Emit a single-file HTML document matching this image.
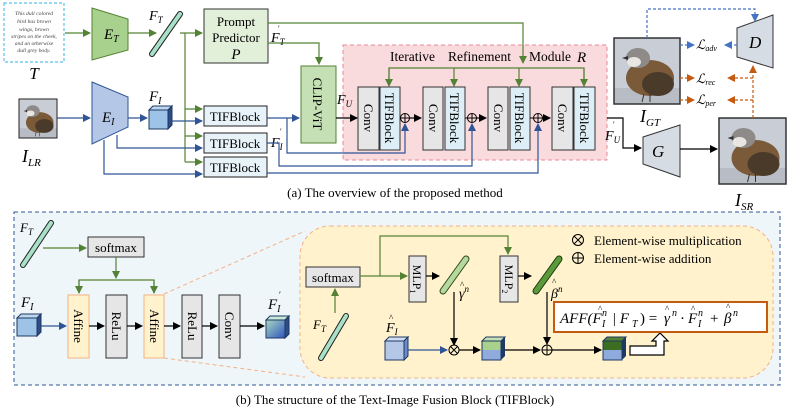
<!DOCTYPE html>
<html><head><meta charset="utf-8"><style>
html,body{margin:0;padding:0;background:#fff;}
svg{display:block;font-family:"Liberation Serif",serif;}
</style></head><body>
<svg width="789" height="411" viewBox="0 0 789 411" xmlns="http://www.w3.org/2000/svg">
<defs>
<marker id="ag" markerWidth="8" markerHeight="8" refX="7" refY="4" orient="auto" markerUnits="userSpaceOnUse"><path d="M0,0 L8,4 L0,8 z" fill="#548235"/></marker>
<marker id="ab" markerWidth="8" markerHeight="8" refX="7" refY="4" orient="auto" markerUnits="userSpaceOnUse"><path d="M0,0 L8,4 L0,8 z" fill="#2f5597"/></marker>
<marker id="ak" markerWidth="8" markerHeight="8" refX="7" refY="4" orient="auto" markerUnits="userSpaceOnUse"><path d="M0,0 L8,4 L0,8 z" fill="#000"/></marker>
<marker id="ao" markerWidth="8" markerHeight="8" refX="7" refY="4" orient="auto" markerUnits="userSpaceOnUse"><path d="M0,0 L8,4 L0,8 z" fill="#c55a11"/></marker>
<marker id="al" markerWidth="8" markerHeight="8" refX="7" refY="4" orient="auto" markerUnits="userSpaceOnUse"><path d="M0,0 L8,4 L0,8 z" fill="#4472c4"/></marker>
<symbol id="bird" viewBox="0 0 66 66">
<rect width="66" height="66" fill="#c9cdd6"/>
<rect y="50" width="66" height="16" fill="#b8bcc4"/>
<ellipse cx="36" cy="40" rx="24" ry="18" fill="#7a5a38"/>
<ellipse cx="44" cy="46" rx="16" ry="12" fill="#4a3a2a"/>
<ellipse cx="24" cy="20" rx="12" ry="10" fill="#8e8a88"/>
<ellipse cx="20" cy="24" rx="7" ry="5" fill="#e8e6e2"/>
<path d="M8,20 L14,18 L14,22z" fill="#333"/>
<line x1="30" y1="56" x2="28" y2="64" stroke="#333"/><line x1="36" y1="56" x2="36" y2="64" stroke="#333"/>
</symbol>
<linearGradient id="gout" x1="0" y1="0" x2="1" y2="1"><stop offset="0" stop-color="#a9d8c0"/><stop offset="1" stop-color="#2f55c0"/></linearGradient>
</defs>

<rect x="4" y="3" width="60" height="59" fill="#fff" stroke="#5bc0eb" stroke-width="1.2" stroke-dasharray="3,2"/>
<g font-size="5.6" font-style="italic" fill="#444" text-anchor="middle">
<text x="34" y="15">This dull colored</text><text x="34" y="23">bird has brown</text><text x="34" y="31">wings, brown</text><text x="34" y="38">stripes on the cheek,</text><text x="34" y="45">and an otherwise</text><text x="34" y="52">dull grey body.</text></g>
<text x="34" y="79" font-size="17" font-style="italic" text-anchor="middle">T</text>
<line x1="65" y1="33" x2="90" y2="33" stroke="#548235" stroke-width="1.2" marker-end="url(#ag)"/>
<polygon points="92,8 128,19 128,50 92,60" fill="#a9d18e" stroke="#548235"/>
<text x="104" y="39" font-size="15" font-style="italic">E<tspan font-size="10" dy="3">T</tspan></text>
<line x1="128" y1="33" x2="156" y2="33" stroke="#548235" stroke-width="1.2" marker-end="url(#ag)"/>
<line x1="152" y1="54" x2="180" y2="14" stroke="#222" stroke-width="6" stroke-linecap="round"/>
<line x1="152" y1="54" x2="180" y2="14" stroke="#a8e0c8" stroke-width="4" stroke-linecap="round"/>
<text x="149" y="20" font-size="14" font-style="italic">F<tspan font-size="9" dy="3">T</tspan></text>
<line x1="180" y1="33" x2="202" y2="33" stroke="#548235" stroke-width="1.2" marker-end="url(#ag)"/>
<rect x="204" y="9" width="64" height="54" fill="#e2efd9" stroke="#333"/>
<text x="236" y="26" font-size="13" text-anchor="middle">Prompt</text>
<text x="236" y="42" font-size="13" text-anchor="middle">Predictor</text>
<text x="236" y="59" font-size="15" font-style="italic" text-anchor="middle">P</text>
<polyline points="185,33 185,162" fill="none" stroke="#548235" stroke-width="1.2"/>
<line x1="185" y1="109" x2="202" y2="109" stroke="#548235" stroke-width="1.2" marker-end="url(#ag)"/>
<line x1="185" y1="136" x2="202" y2="136" stroke="#548235" stroke-width="1.2" marker-end="url(#ag)"/>
<line x1="185" y1="162" x2="202" y2="162" stroke="#548235" stroke-width="1.2" marker-end="url(#ag)"/>
<rect x="343" y="45" width="264" height="115" fill="#f9dadd" stroke="#e88a94" stroke-dasharray="4,3"/>
<g font-size="13.5">
<text x="390" y="61">Iterative</text><text x="448" y="61">Refinement</text><text x="529" y="61">Module</text></g>
<text x="577" y="62" font-size="15" font-style="italic">R</text>
<polyline points="268,23 523,23 523,63" fill="none" stroke="#548235" stroke-width="1.2" marker-end="url(#ag)"/>
<polyline points="389,86 389,68 584,68 584,86" fill="none" stroke="#548235" stroke-width="1.2"/>
<line x1="389" y1="68" x2="389" y2="86" stroke="#548235" stroke-width="1.2" marker-end="url(#ag)"/>
<line x1="454" y1="68" x2="454" y2="86" stroke="#548235" stroke-width="1.2" marker-end="url(#ag)"/>
<line x1="519" y1="68" x2="519" y2="86" stroke="#548235" stroke-width="1.2" marker-end="url(#ag)"/>
<line x1="584" y1="68" x2="584" y2="86" stroke="#548235" stroke-width="1.2" marker-end="url(#ag)"/>
<polyline points="268,43 319,43 319,64" fill="none" stroke="#548235" stroke-width="1.2" marker-end="url(#ag)"/>
<text x="271" y="42" font-size="14" font-style="italic">F<tspan font-size="9" dy="3">T</tspan></text><text x="278" y="31" font-size="8">′</text>
<rect x="301" y="66" width="35" height="77" fill="#c5e0b4" stroke="#548235"/>
<text transform="translate(313,104) rotate(90)" font-size="13" text-anchor="middle">CLIP-ViT</text>
<text x="337" y="104" font-size="14" font-style="italic">F<tspan font-size="9" dy="3">U</tspan></text>
<line x1="336" y1="118" x2="357" y2="118" stroke="#000" stroke-width="1.2" marker-end="url(#ak)"/>
<g font-size="13">
<rect x="358" y="87" width="21" height="63" fill="#e6e6e6" stroke="#333"/><rect x="380" y="87" width="20" height="63" fill="#deeef7" stroke="#333"/>
<rect x="423" y="87" width="20" height="63" fill="#e6e6e6" stroke="#333"/><rect x="445" y="87" width="20" height="63" fill="#deeef7" stroke="#333"/>
<rect x="488" y="87" width="20" height="63" fill="#e6e6e6" stroke="#333"/><rect x="510" y="87" width="20" height="63" fill="#deeef7" stroke="#333"/>
<rect x="552" y="87" width="21" height="63" fill="#e6e6e6" stroke="#333"/><rect x="574" y="87" width="21" height="63" fill="#deeef7" stroke="#333"/>
<text transform="translate(364,118) rotate(90)" text-anchor="middle">Conv</text><text transform="translate(385,118) rotate(90)" text-anchor="middle">TIFBlock</text>
<text transform="translate(429,118) rotate(90)" text-anchor="middle">Conv</text><text transform="translate(450,118) rotate(90)" text-anchor="middle">TIFBlock</text>
<text transform="translate(494,118) rotate(90)" text-anchor="middle">Conv</text><text transform="translate(515,118) rotate(90)" text-anchor="middle">TIFBlock</text>
<text transform="translate(558,118) rotate(90)" text-anchor="middle">Conv</text><text transform="translate(580,118) rotate(90)" text-anchor="middle">TIFBlock</text>
</g>
<g stroke="#000" stroke-width="1" fill="none">
<circle cx="405" cy="118" r="4.5"/><path d="M400.5,118h9M405,113.5v9"/>
<circle cx="472" cy="118" r="4.5"/><path d="M467.5,118h9M472,113.5v9"/>
<circle cx="538" cy="118" r="4.5"/><path d="M533.5,118h9M538,113.5v9"/>
</g>
<line x1="409.5" y1="118" x2="421" y2="118" stroke="#000" stroke-width="1.2" marker-end="url(#ak)"/>
<line x1="465" y1="118" x2="467.5" y2="118" stroke="#000"/>
<line x1="476.5" y1="118" x2="486" y2="118" stroke="#000" stroke-width="1.2" marker-end="url(#ak)"/>
<line x1="530" y1="118" x2="533.5" y2="118" stroke="#000"/>
<line x1="542.5" y1="118" x2="550" y2="118" stroke="#000" stroke-width="1.2" marker-end="url(#ak)"/>
<use href="#bird" x="19" y="99" width="38" height="39"/>
<rect x="19" y="99" width="38" height="39" fill="none" stroke="#222"/>
<text x="22" y="162" font-size="18" font-style="italic">I<tspan font-size="11" dy="4">LR</tspan></text>
<line x1="57" y1="118" x2="90" y2="118" stroke="#2f5597" stroke-width="1.2" marker-end="url(#ab)"/>
<polygon points="92,82 128,97 128,127 92,144" fill="#b4c7e7" stroke="#2f5597"/>
<text x="102" y="122" font-size="15" font-style="italic">E<tspan font-size="10" dy="3">I</tspan></text>
<line x1="128" y1="118" x2="147" y2="118" stroke="#2f5597" stroke-width="1.2" marker-end="url(#ab)"/>
<polygon points="149,110 153,106 172,106 172,125 168,129 149,129" fill="#1f3864"/>
<rect x="149" y="110" width="19" height="19" fill="#9dc3e6" stroke="#1f3864"/>
<polygon points="149,110 153,106 172,106 168,110" fill="#bdd7ee" stroke="#1f3864"/>
<polygon points="168,110 172,106 172,125 168,129" fill="#2e4d86" stroke="#1f3864"/>
<text x="149" y="101" font-size="15" font-style="italic">F<tspan font-size="10" dy="3">I</tspan></text>
<line x1="172" y1="121" x2="202" y2="121" stroke="#2f5597" stroke-width="1.2" marker-end="url(#ab)"/>
<polyline points="117,135 117,148 202,148" fill="none" stroke="#2f5597" stroke-width="1.2" marker-end="url(#ab)"/>
<polyline points="104,140 104,174 202,174" fill="none" stroke="#2f5597" stroke-width="1.2" marker-end="url(#ab)"/>
<g font-size="13">
<rect x="204" y="106" width="63" height="20" fill="#e7f3f9" stroke="#222"/><text x="235" y="121" text-anchor="middle">TIFBlock</text>
<rect x="204" y="133" width="63" height="20" fill="#e7f3f9" stroke="#222"/><text x="235" y="148" text-anchor="middle">TIFBlock</text>
<rect x="204" y="157" width="63" height="20" fill="#e7f3f9" stroke="#222"/><text x="235" y="172" text-anchor="middle">TIFBlock</text>
</g>
<text x="271" y="147" font-size="14" font-style="italic">F<tspan font-size="9" dy="3">I</tspan></text><text x="280" y="134" font-size="8">′</text>
<line x1="267" y1="118" x2="299" y2="118" stroke="#2f5597" stroke-width="1.2" marker-end="url(#ab)"/>
<polyline points="287,118 287,153 405,153 405,124" fill="none" stroke="#2f5597" stroke-width="1.2" marker-end="url(#ab)"/>
<polyline points="267,143 279,143 279,166 472,166 472,124" fill="none" stroke="#2f5597" stroke-width="1.2" marker-end="url(#ab)"/>
<polyline points="267,173 538,173 538,124" fill="none" stroke="#2f5597" stroke-width="1.2" marker-end="url(#ab)"/>
<polyline points="607,118 623,118 623,148 641,148" fill="none" stroke="#000" stroke-width="1.2" marker-end="url(#ak)"/>
<text x="605" y="140" font-size="14" font-style="italic">F<tspan font-size="9" dy="3">U</tspan></text><text x="613" y="127" font-size="8">′</text>
<polygon points="643,137 680,125 680,177 643,164" fill="#d6dce4" stroke="#333"/>
<text x="652" y="157" font-size="17" font-style="italic">G</text>
<line x1="680" y1="149" x2="717" y2="149" stroke="#000" stroke-width="1.2" marker-end="url(#ak)"/>
<use href="#bird" x="719" y="118" width="67" height="66"/>
<rect x="719" y="118" width="67" height="66" fill="none" stroke="#333" stroke-width="1.5"/>
<text x="735" y="206" font-size="18" font-style="italic">I<tspan font-size="11" dy="4">SR</tspan></text>
<use href="#bird" x="614" y="38" width="66" height="66"/>
<rect x="614" y="38" width="66" height="66" fill="none" stroke="#333" stroke-width="1.5"/>
<text x="640" y="122" font-size="18" font-style="italic">I<tspan font-size="11" dy="4">GT</tspan></text>
<polygon points="737,28 773,15 773,68 737,57" fill="#d6dce4" stroke="#333"/>
<text x="749" y="48" font-size="17" font-style="italic">D</text>
<polyline points="647,38 647,9 755,9 755,21" fill="none" stroke="#4472c4" stroke-width="1.2" stroke-dasharray="3,2" marker-end="url(#al)"/>
<line x1="680" y1="45" x2="694" y2="45" stroke="#4472c4" stroke-width="1.2" stroke-dasharray="3,2" marker-end="url(#al)"/>
<line x1="737" y1="45" x2="725" y2="45" stroke="#4472c4" stroke-width="1.2" stroke-dasharray="3,2" marker-end="url(#al)"/>
<g font-size="13" font-style="italic">
<text x="696" y="49">ℒ<tspan font-size="8" dy="2">adv</tspan></text>
<text x="696" y="83">ℒ<tspan font-size="8" dy="2">rec</tspan></text>
<text x="696" y="104">ℒ<tspan font-size="8" dy="2">per</tspan></text>
</g>
<line x1="680" y1="78" x2="694" y2="78" stroke="#c55a11" stroke-width="1.2" stroke-dasharray="3,2" marker-end="url(#ao)"/>
<line x1="680" y1="100" x2="694" y2="100" stroke="#c55a11" stroke-width="1.2" stroke-dasharray="3,2" marker-end="url(#ao)"/>
<line x1="753" y1="118" x2="753" y2="66" stroke="#c55a11" stroke-width="1.2" stroke-dasharray="3,2" marker-end="url(#ao)"/>
<line x1="753" y1="78" x2="728" y2="78" stroke="#c55a11" stroke-width="1.2" stroke-dasharray="3,2" marker-end="url(#ao)"/>
<line x1="753" y1="100" x2="728" y2="100" stroke="#c55a11" stroke-width="1.2" stroke-dasharray="3,2" marker-end="url(#ao)"/>
<text x="395" y="197" font-size="13" text-anchor="middle">(a) The overview of the proposed method</text>

<rect x="14" y="212" width="766" height="173" fill="#eef6fa" stroke="#2f5597" stroke-dasharray="4,3"/>
<line x1="23" y1="265" x2="51" y2="223" stroke="#222" stroke-width="6" stroke-linecap="round"/>
<line x1="23" y1="265" x2="51" y2="223" stroke="#a8e0c8" stroke-width="4" stroke-linecap="round"/>
<text x="20" y="232" font-size="13" font-style="italic">F<tspan font-size="9" dy="3">T</tspan></text>
<line x1="43" y1="248" x2="86" y2="248" stroke="#548235" stroke-width="1.2" marker-end="url(#ag)"/>
<rect x="88" y="237" width="56" height="20" fill="#e6e6e6" stroke="#333"/>
<text x="116" y="252" font-size="13" text-anchor="middle">softmax</text>
<line x1="116" y1="257" x2="116" y2="278" stroke="#548235" stroke-width="1.2" marker-end="url(#ag)"/>
<polyline points="79,293 79,280 154,280 154,293" fill="none" stroke="#548235" stroke-width="1.2"/>
<line x1="79" y1="280" x2="79" y2="293" stroke="#548235" stroke-width="1.2" marker-end="url(#ag)"/>
<line x1="154" y1="280" x2="154" y2="293" stroke="#548235" stroke-width="1.2" marker-end="url(#ag)"/>
<g font-size="13">
<rect x="68" y="295" width="21" height="63" fill="#fff2cc" stroke="#f4b183"/>
<rect x="106" y="295" width="21" height="63" fill="#e6e6e6" stroke="#333"/>
<rect x="144" y="295" width="20" height="63" fill="#fff2cc" stroke="#f4b183"/>
<rect x="182" y="295" width="20" height="63" fill="#e6e6e6" stroke="#333"/>
<rect x="219" y="295" width="21" height="63" fill="#e6e6e6" stroke="#333"/>
<text transform="translate(74,326) rotate(90)" text-anchor="middle">Affine</text>
<text transform="translate(112,326) rotate(90)" text-anchor="middle">ReLu</text>
<text transform="translate(150,326) rotate(90)" text-anchor="middle">Affine</text>
<text transform="translate(188,326) rotate(90)" text-anchor="middle">ReLu</text>
<text transform="translate(225,326) rotate(90)" text-anchor="middle">Conv</text>
</g>
<polygon points="17,318 21,314 41,314 41,332 37,336 17,336" fill="#1f3864"/>
<rect x="17" y="318" width="20" height="18" fill="#9dc3e6" stroke="#1f3864"/>
<polygon points="17,318 21,314 41,314 37,318" fill="#bdd7ee" stroke="#1f3864"/>
<polygon points="37,318 41,314 41,332 37,336" fill="#2e4d86" stroke="#1f3864"/>
<text x="21" y="307" font-size="15" font-style="italic">F<tspan font-size="10" dy="3">I</tspan></text>
<line x1="41" y1="326" x2="66" y2="326" stroke="#2f5597" stroke-width="1.2" marker-end="url(#ab)"/>
<line x1="89" y1="326" x2="104" y2="326" stroke="#000" stroke-width="1.2" marker-end="url(#ak)"/>
<line x1="127" y1="326" x2="142" y2="326" stroke="#000" stroke-width="1.2" marker-end="url(#ak)"/>
<line x1="164" y1="326" x2="180" y2="326" stroke="#000" stroke-width="1.2" marker-end="url(#ak)"/>
<line x1="202" y1="326" x2="217" y2="326" stroke="#000" stroke-width="1.2" marker-end="url(#ak)"/>
<line x1="240" y1="326" x2="264" y2="326" stroke="#000" stroke-width="1.2" marker-end="url(#ak)"/>
<polygon points="266,320 270,316 289,316 289,334 285,338 266,338" fill="#1f3864"/>
<rect x="266" y="320" width="19" height="18" fill="url(#gout)" stroke="#1f3864"/>
<polygon points="266,320 270,316 289,316 285,320" fill="#c7e8d8" stroke="#1f3864"/>
<polygon points="285,320 289,316 289,334 285,338" fill="#2e4d86" stroke="#1f3864"/>
<text x="268" y="309" font-size="15" font-style="italic">F<tspan font-size="10" dy="3">I</tspan></text><text x="279" y="298" font-size="9">′</text>
<line x1="164" y1="294" x2="305" y2="231" stroke="#f4b183" stroke-dasharray="4,3"/>
<line x1="164" y1="358" x2="305" y2="377" stroke="#f4b183" stroke-dasharray="4,3"/>
<rect x="300" y="226" width="473" height="152" rx="30" fill="#fff2cc" stroke="#f4b183" stroke-dasharray="4,3"/>
<rect x="306" y="267" width="54" height="20" fill="#e6e6e6" stroke="#333"/>
<text x="333" y="282" font-size="13" text-anchor="middle">softmax</text>
<line x1="321" y1="358" x2="346" y2="316" stroke="#222" stroke-width="6" stroke-linecap="round"/>
<line x1="321" y1="358" x2="346" y2="316" stroke="#a8e0c8" stroke-width="4" stroke-linecap="round"/>
<text x="313" y="329" font-size="13" font-style="italic">F<tspan font-size="9" dy="3">T</tspan></text>
<line x1="335" y1="313" x2="335" y2="289" stroke="#548235" stroke-width="1.2" marker-end="url(#ag)"/>
<line x1="360" y1="276" x2="407" y2="276" stroke="#548235" stroke-width="1.2" marker-end="url(#ag)"/>
<polyline points="380,276 380,236 508,236 508,254" fill="none" stroke="#548235" stroke-width="1.2" marker-end="url(#ag)"/>
<rect x="409" y="256" width="17" height="46" fill="#e6e6e6" stroke="#333"/>
<rect x="500" y="256" width="18" height="46" fill="#e6e6e6" stroke="#333"/>
<text transform="translate(413,279) rotate(90)" font-size="12" text-anchor="middle">MLP<tspan font-size="8" dy="3">1</tspan></text>
<text transform="translate(505,279) rotate(90)" font-size="12" text-anchor="middle">MLP<tspan font-size="8" dy="3">2</tspan></text>
<line x1="426" y1="276" x2="439" y2="276" stroke="#000" stroke-width="1.2" marker-end="url(#ak)"/>
<line x1="518" y1="276" x2="531" y2="276" stroke="#000" stroke-width="1.2" marker-end="url(#ak)"/>
<line x1="443" y1="291" x2="466" y2="259" stroke="#2f4a20" stroke-width="7" stroke-linecap="round"/>
<line x1="443" y1="291" x2="466" y2="259" stroke="#b5d99c" stroke-width="5" stroke-linecap="round"/>
<line x1="536" y1="291" x2="559" y2="259" stroke="#1e3a12" stroke-width="7" stroke-linecap="round"/>
<line x1="536" y1="291" x2="559" y2="259" stroke="#5a9a3a" stroke-width="5" stroke-linecap="round"/>
<text x="459" y="298" font-size="14" font-style="italic">γ<tspan font-size="9" dy="-6">n</tspan></text>
<text x="460" y="288" font-size="9">^</text>
<text x="551" y="298" font-size="14" font-style="italic">β<tspan font-size="9" dy="-6">n</tspan></text>
<text x="552" y="285" font-size="9">^</text>
<line x1="454" y1="292" x2="454" y2="345" stroke="#000" stroke-width="1.2" marker-end="url(#ak)"/>
<line x1="547" y1="292" x2="547" y2="344" stroke="#000" stroke-width="1.2" marker-end="url(#ak)"/>
<polygon points="385,341 389,337 408,337 408,356 404,360 385,360" fill="#1f3864"/>
<rect x="385" y="341" width="19" height="19" fill="#b4c7e7" stroke="#1f3864"/>
<polygon points="385,341 389,337 408,337 404,341" fill="#d0def2" stroke="#1f3864"/>
<polygon points="404,341 408,337 408,356 404,360" fill="#6a8cc8" stroke="#1f3864"/>
<text x="386" y="332" font-size="14" font-style="italic">F<tspan font-size="9" dy="3">I</tspan></text>
<text x="389" y="321" font-size="9">^</text>
<line x1="408" y1="350" x2="447" y2="350" stroke="#2f5597" stroke-width="1.2" marker-end="url(#ab)"/>
<g stroke="#000" stroke-width="1" fill="none">
<circle cx="454" cy="350" r="5"/><path d="M450.5,346.5l7,7M457.5,346.5l-7,7"/>
<circle cx="547" cy="350" r="5"/><path d="M542,350h10M547,345v10"/>
</g>
<line x1="459" y1="350" x2="480" y2="350" stroke="#000" stroke-width="1.2" marker-end="url(#ak)"/>
<polygon points="482,341 486,337 505,337 505,356 501,360 482,360" fill="#1f3864"/>
<rect x="482" y="341" width="19" height="9" fill="#a9d18e"/><rect x="482" y="350" width="19" height="10" fill="#8faadc"/>
<rect x="482" y="341" width="19" height="19" fill="none" stroke="#1f3864"/>
<polygon points="482,341 486,337 505,337 501,341" fill="#c5e0b4" stroke="#1f3864"/>
<line x1="505" y1="350" x2="540" y2="350" stroke="#000" stroke-width="1.2" marker-end="url(#ak)"/>
<line x1="552" y1="350" x2="601" y2="350" stroke="#000" stroke-width="1.2" marker-end="url(#ak)"/>
<polygon points="603,341 607,337 626,337 626,356 622,360 603,360" fill="#1f3864"/>
<rect x="603" y="341" width="19" height="9" fill="#3b6e22"/><rect x="603" y="350" width="19" height="10" fill="#8faadc"/>
<rect x="603" y="341" width="19" height="19" fill="none" stroke="#1f3864"/>
<polygon points="603,341 607,337 626,337 622,341" fill="#548235" stroke="#1f3864"/>
<polygon points="630,346 656,346 656,341 652,341 660,333 668,341 664,341 664,355 630,355" fill="#fff" stroke="#000" stroke-width="1.2"/>
<rect x="554" y="302" width="213" height="30" fill="#fff" stroke="#c55a11" stroke-width="2"/>
<g font-size="15" font-style="italic">
<text x="560" y="323">AFF(F</text><text x="602" y="316" font-size="10">n</text><text x="602" y="327" font-size="10">I</text><text x="598" y="312" font-size="9" font-style="normal">^</text>
<text x="612" y="323">| F</text><text x="632" y="327" font-size="10">T</text>
<text x="640" y="323" font-style="normal">) =</text>
<text x="664" y="323">γ</text><text x="672" y="316" font-size="10">n</text><text x="665" y="312" font-size="9" font-style="normal">^</text>
<text x="680" y="323" font-style="normal">·</text>
<text x="688" y="323">F</text><text x="698" y="316" font-size="10">n</text><text x="698" y="327" font-size="10">I</text><text x="691" y="312" font-size="9" font-style="normal">^</text>
<text x="710" y="323" font-style="normal">+</text>
<text x="724" y="323">β</text><text x="733" y="316" font-size="10">n</text><text x="726" y="310" font-size="9" font-style="normal">^</text>
</g>
<g stroke="#000" stroke-width="1" fill="none">
<circle cx="578" cy="240" r="5.5"/><path d="M574,236l8,8M582,236l-8,8"/>
<circle cx="578" cy="258" r="5.5"/><path d="M572.5,258h11M578,252.5v11"/>
</g>
<text x="594" y="245" font-size="13">Element-wise multiplication</text>
<text x="594" y="263" font-size="13">Element-wise addition</text>
<text x="395" y="404" font-size="13" text-anchor="middle">(b) The structure of the Text-Image Fusion Block (TIFBlock)</text>
</svg>
</body></html>
